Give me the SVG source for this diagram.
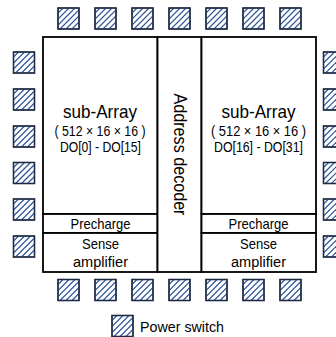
<svg xmlns="http://www.w3.org/2000/svg" xmlns:xlink="http://www.w3.org/1999/xlink" width="336" height="337" viewBox="0 0 336 337">
<style>
.t{font-family:"Liberation Sans",Arial,sans-serif;fill:#000;text-anchor:middle}
.blk{fill:#fff;stroke:#000;stroke-width:1.8}
.ps{fill:#fff;stroke:#1e2a44;stroke-width:1.3}
.h{stroke:#2f5597;stroke-width:1.2}
</style>
<defs>
<clipPath id="c"><rect x="0" y="0" width="21" height="21"/></clipPath>
<symbol id="sw" viewBox="-1 -1 23 23" width="23" height="23" overflow="visible">
<rect class="ps" x="0" y="0" width="21" height="21"/>
<g clip-path="url(#c)" class="h">
<line x1="0" y1="5" x2="5" y2="0"/>
<line x1="0" y1="11" x2="11" y2="0"/>
<line x1="0" y1="17" x2="17" y2="0"/>
<line x1="2" y1="21" x2="21" y2="2"/>
<line x1="8" y1="21" x2="21" y2="8"/>
<line x1="14" y1="21" x2="21" y2="14"/>
</g>
<rect x="0" y="0" width="21" height="21" fill="none" stroke="#1e2a44" stroke-width="1.3"/>
</symbol>
</defs>
<rect width="336" height="337" fill="#fff"/>

<g id="sub-array-left">
<rect class="blk" x="43" y="37" width="114.5" height="177"/>
<text class="t" x="100" y="118" font-size="19" textLength="74" lengthAdjust="spacingAndGlyphs">sub-Array</text>
<text class="t" x="100" y="136" font-size="15" textLength="91" lengthAdjust="spacingAndGlyphs">( 512 × 16 × 16 )</text>
<text class="t" x="100.5" y="151.5" font-size="14" textLength="81" lengthAdjust="spacingAndGlyphs">DO[0] - DO[15]</text>
</g>
<g id="precharge-left">
<rect class="blk" x="43" y="214" width="114.5" height="19"/>
<text class="t" x="100.5" y="228.5" font-size="14.5" textLength="60" lengthAdjust="spacingAndGlyphs">Precharge</text>
</g>
<g id="sense-left">
<rect class="blk" x="43" y="233" width="114.5" height="39"/>
<text class="t" x="100.5" y="249" font-size="15" textLength="37" lengthAdjust="spacingAndGlyphs">Sense</text>
<text class="t" x="100.5" y="267" font-size="15.5" textLength="55" lengthAdjust="spacingAndGlyphs">amplifier</text>
</g>

<g id="address-decoder">
<rect class="blk" x="157.5" y="37" width="44" height="235"/>
<text class="t" font-size="17.5" textLength="122" lengthAdjust="spacingAndGlyphs" transform="translate(173.5,154.5) rotate(90)">Address decoder</text>
</g>

<g id="sub-array-right">
<rect class="blk" x="201.5" y="37" width="114.5" height="177"/>
<text class="t" x="258.5" y="118" font-size="19" textLength="74" lengthAdjust="spacingAndGlyphs">sub-Array</text>
<text class="t" x="258.5" y="136" font-size="15" textLength="95" lengthAdjust="spacingAndGlyphs">( 512 × 16 × 16 )</text>
<text class="t" x="258.5" y="151.5" font-size="14" textLength="89" lengthAdjust="spacingAndGlyphs">DO[16] - DO[31]</text>
</g>
<g id="precharge-right">
<rect class="blk" x="201.5" y="214" width="114.5" height="19"/>
<text class="t" x="258.5" y="228.5" font-size="14.5" textLength="60" lengthAdjust="spacingAndGlyphs">Precharge</text>
</g>
<g id="sense-right">
<rect class="blk" x="201.5" y="233" width="114.5" height="39"/>
<text class="t" x="258.5" y="249" font-size="15" textLength="37" lengthAdjust="spacingAndGlyphs">Sense</text>
<text class="t" x="258.5" y="267" font-size="15.5" textLength="55" lengthAdjust="spacingAndGlyphs">amplifier</text>
</g>

<g id="connectors"/>

<g id="power-switches-top">
<use href="#sw" xlink:href="#sw" x="57" y="7"/>
<use href="#sw" xlink:href="#sw" x="94" y="7"/>
<use href="#sw" xlink:href="#sw" x="131" y="7"/>
<use href="#sw" xlink:href="#sw" x="168" y="7"/>
<use href="#sw" xlink:href="#sw" x="205" y="7"/>
<use href="#sw" xlink:href="#sw" x="242" y="7"/>
<use href="#sw" xlink:href="#sw" x="279" y="7"/>
</g>
<g id="power-switches-bottom">
<use href="#sw" xlink:href="#sw" x="57" y="278.5"/>
<use href="#sw" xlink:href="#sw" x="94" y="278.5"/>
<use href="#sw" xlink:href="#sw" x="131" y="278.5"/>
<use href="#sw" xlink:href="#sw" x="168" y="278.5"/>
<use href="#sw" xlink:href="#sw" x="205" y="278.5"/>
<use href="#sw" xlink:href="#sw" x="242" y="278.5"/>
<use href="#sw" xlink:href="#sw" x="279" y="278.5"/>
</g>
<g id="power-switches-left">
<use href="#sw" xlink:href="#sw" x="12.5" y="51"/>
<use href="#sw" xlink:href="#sw" x="12.5" y="88"/>
<use href="#sw" xlink:href="#sw" x="12.5" y="125"/>
<use href="#sw" xlink:href="#sw" x="12.5" y="161.5"/>
<use href="#sw" xlink:href="#sw" x="12.5" y="198"/>
<use href="#sw" xlink:href="#sw" x="12.5" y="235"/>
</g>
<g id="power-switches-right">
<use href="#sw" xlink:href="#sw" x="322.5" y="51"/>
<use href="#sw" xlink:href="#sw" x="322.5" y="88"/>
<use href="#sw" xlink:href="#sw" x="322.5" y="125"/>
<use href="#sw" xlink:href="#sw" x="322.5" y="161.5"/>
<use href="#sw" xlink:href="#sw" x="322.5" y="198"/>
<use href="#sw" xlink:href="#sw" x="322.5" y="235"/>
</g>

<g id="legend">
<use href="#sw" xlink:href="#sw" x="111" y="314.5"/>
<text x="140" y="332" font-size="15.5" textLength="84" lengthAdjust="spacingAndGlyphs" style="font-family:'Liberation Sans',Arial,sans-serif">Power switch</text>
</g>
</svg>
